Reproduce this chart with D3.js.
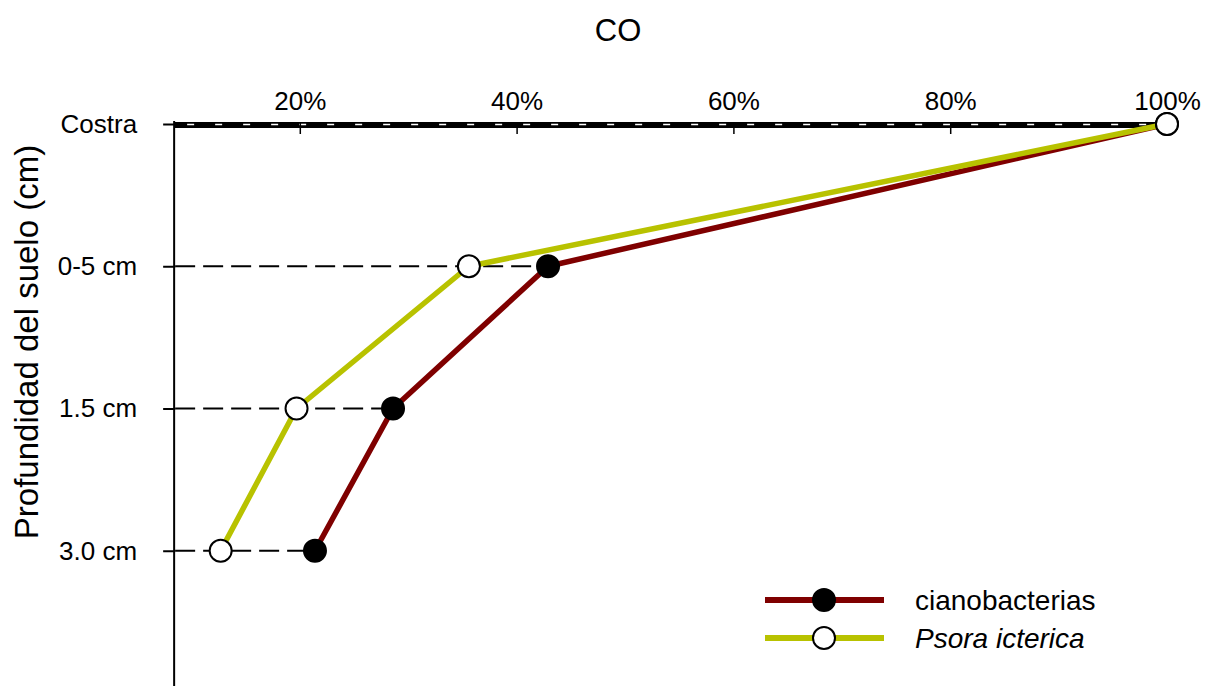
<!DOCTYPE html>
<html><head><meta charset="utf-8">
<script src="https://cdn.jsdelivr.net/npm/d3@7"></script>
<style>body{margin:0;background:#fff}svg{display:block;font-family:"Liberation Sans",Arial,sans-serif}</style>
</head><body><svg id="c" width="1207" height="686"></svg>
<script>
const depths = ["Costra", "0-5 cm", "1.5 cm", "3.0 cm"];
const cianobacterias = [100, 42.9, 28.6, 21.4];
const psora = [100, 35.6, 19.7, 12.7];
const xTicks = [20, 40, 60, 80, 100];
const seriesNames = ["cianobacterias", "Psora icterica"];
const colors = ["#7f0000", "#b8c200"];

const svg = d3.select("#c");
const x = d3.scaleLinear().domain([0, 100]).range([83, 1167]);
const y = d3.scalePoint().domain(depths.concat(["_a"])).range([124, 693]);
const x0 = x(8.5);

// dashed reference lines to rightmost point
depths.forEach((d, i) => {
  if (i === 0) return;
  const xr = Math.max(cianobacterias[i], psora[i]);
  svg.append("line").attr("x1", x0).attr("x2", x(xr)).attr("y1", y(d)).attr("y2", y(d))
    .attr("stroke", "#000").attr("stroke-width", 2).attr("stroke-dasharray", "20,8");
});

// top axis band
const yTop = y("Costra");
svg.append("line").attr("x1", x0 - 1).attr("x2", x(100)).attr("y1", yTop + 1).attr("y2", yTop + 1)
  .attr("stroke", "#000").attr("stroke-width", 6);
svg.append("line").attr("x1", x0 + 12).attr("x2", x(100)).attr("y1", yTop + 0.5).attr("y2", yTop + 0.5)
  .attr("stroke", "#fff").attr("stroke-width", 1.5).attr("stroke-dasharray", "7,21");

const ax = svg.append("g").attr("transform", `translate(0,${yTop - 2})`)
  .call(d3.axisTop(x).tickValues(xTicks).tickFormat(d => d + "%").tickSizeOuter(0).tickSizeInner(-12).tickPadding(12));
ax.select(".domain").remove();
ax.selectAll("line").attr("stroke", "#000").attr("stroke-width", 1.5);
ax.selectAll("text").attr("font-size", 26).attr("fill", "#000").attr("font-family", "Liberation Sans, Arial, sans-serif");

// left axis
const ay = svg.append("g").attr("transform", `translate(${x0},0)`)
  .call(d3.axisLeft(y).tickValues(depths).tickSizeOuter(0).tickSizeInner(12).tickPadding(26));
ay.select(".domain").remove();
ay.selectAll("line").attr("stroke", "#000").attr("stroke-width", 2);
ay.selectAll("text").attr("font-size", 26).attr("fill", "#000").attr("font-family", "Liberation Sans, Arial, sans-serif");
svg.append("line").attr("x1", x0 - 1).attr("x2", x0 - 1).attr("y1", yTop - 3).attr("y2", 686)
  .attr("stroke", "#000").attr("stroke-width", 2);

// series
const data = [cianobacterias, psora];
const line = d3.line().x(d => x(d.v)).y(d => y(d.d));
data.forEach((s, k) => {
  const pts = s.map((v, i) => ({v, d: depths[i]}));
  svg.append("path").datum(pts).attr("d", line).attr("fill", "none")
    .attr("stroke", colors[k]).attr("stroke-width", 5.5).attr("stroke-linejoin", "round");
});
data.forEach((s, k) => {
  svg.selectAll(null).data(s.map((v, i) => ({v, d: depths[i]}))).enter().append("circle")
    .attr("cx", d => x(d.v)).attr("cy", d => y(d.d)).attr("r", 11)
    .attr("fill", k === 0 ? "#000" : "#fff").attr("stroke", "#000").attr("stroke-width", 2);
});

// titles
svg.append("text").attr("x", 618).attr("y", 41).attr("text-anchor", "middle").attr("font-size", 31).text("CO");
svg.append("text").attr("transform", "translate(38,342) rotate(-90)").attr("text-anchor", "middle")
  .attr("font-size", 33).text("Profundidad del suelo (cm)");

// legend
seriesNames.forEach((n, k) => {
  const ly = 600 + k * 38;
  svg.append("line").attr("x1", 765).attr("x2", 884).attr("y1", ly).attr("y2", ly)
    .attr("stroke", colors[k]).attr("stroke-width", 6);
  svg.append("circle").attr("cx", 824).attr("cy", ly).attr("r", 11)
    .attr("fill", k === 0 ? "#000" : "#fff").attr("stroke", "#000").attr("stroke-width", 2);
  svg.append("text").attr("x", 915).attr("y", ly + 10).attr("font-size", 28)
    .attr("font-style", k === 1 ? "italic" : "normal").text(n);
});
</script></body></html>
